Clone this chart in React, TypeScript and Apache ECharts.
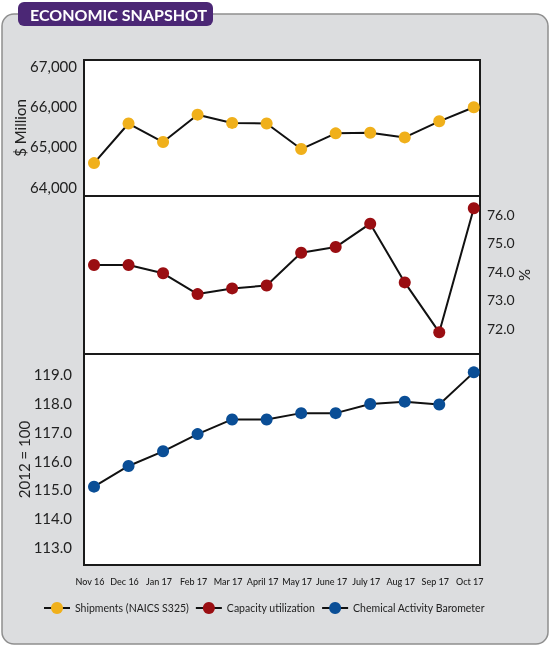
import React, { useEffect, useRef } from "react";
import * as echarts from "echarts";

const months = ["Nov 16", "Dec 16", "Jan 17", "Feb 17", "Mar 17", "April 17", "May 17", "June 17", "July 17", "Aug 17", "Sep 17", "Oct 17"];
const shipments = [64585, 65570, 65110, 65790, 65585, 65570, 64935, 65325, 65340, 65225, 65625, 65975];
const capacity = [74.22, 74.22, 73.93, 73.2, 73.4, 73.5, 74.65, 74.85, 75.67, 73.61, 71.86, 76.21];
const cab = [115.09, 115.81, 116.32, 116.92, 117.43, 117.43, 117.65, 117.65, 117.97, 118.05, 117.95, 119.07];
const shipTicks = [64000, 65000, 66000, 67000];
const capTicks = [72, 73, 74, 75, 76];
const cabTicks = [113, 114, 115, 116, 117, 118, 119];

const FONT = "Lato";

export default function App() {
  const ref = useRef<HTMLDivElement>(null);
  useEffect(() => {
    if (!ref.current) return;
    const chart = echarts.init(ref.current, undefined, { renderer: "svg" });
    const idx = months.map((_, i) => i);
    const gridBase = {
      left: 84,
      right: 70,
      show: true,
      backgroundColor: "#ffffff",
      borderColor: "#1a1a1a",
      borderWidth: 2,
      containLabel: false,
      outerBoundsMode: "none",
    };
    const xBase = (gi: number, showLabels: boolean) => ({
      type: "value",
      gridIndex: gi,
      min: -0.29,
      max: 11.18,
      axisLine: { show: false },
      axisTick: { show: false },
      splitLine: { show: false },
      axisLabel: {
        show: showLabels,
        customValues: idx,
        formatter: (v: number) => months[Math.round(v)] ?? "",
        fontFamily: FONT,
        fontSize: 9,
        fontWeight: 500,
        color: "#222",
        margin: 12,
        padding: [0, 8, 0, 0],
      },
    });
    const yBase = {
      type: "value",
      axisLine: { show: false },
      axisTick: { show: false },
      splitLine: { show: false },
      nameLocation: "middle",
      nameMoveOverlap: false,
      nameTextStyle: { fontFamily: FONT, fontSize: 15, color: "#222" },
    };
    const lineSeries = (name: string, data: number[], color: string, gi: number) => ({
      name,
      type: "line",
      xAxisIndex: gi,
      yAxisIndex: gi,
      data: data.map((v, i) => [i, v]),
      symbol: "circle",
      symbolSize: 12,
      itemStyle: { color },
      lineStyle: { color: "#111", width: 2 },
      z: 3,
    });
    chart.setOption({
      animation: false,
      textStyle: { fontFamily: FONT },
      graphic: [
        {
          type: "rect",
          z: -10,
          shape: { x: 2, y: 14, width: 546, height: 630, r: 12 },
          style: { fill: "#dcdddf", stroke: "#8f8f8f", lineWidth: 1.5 },
        },
        {
          type: "rect",
          z: 10,
          shape: { x: 18, y: 2, width: 195, height: 24, r: 6 },
          style: { fill: "#4b2775" },
        },
        {
          type: "text",
          z: 11,
          x: 30,
          y: 14,
          style: { text: "ECONOMIC SNAPSHOT", fill: "#ffffff", font: `bold 16px ${FONT}`, verticalAlign: "middle", textAlign: "left" },
        },
      ],
      grid: [
        { ...gridBase, top: 60, height: 136 },
        { ...gridBase, top: 196, height: 158 },
        { ...gridBase, top: 354, height: 211 },
      ],
      xAxis: [xBase(0, false), xBase(1, false), xBase(2, true)],
      yAxis: [
        {
          ...yBase,
          gridIndex: 0,
          position: "left",
          min: 63767,
          max: 67150,
          name: "$ Million",
          nameRotate: 90,
          nameGap: 57,
          axisLabel: {
            customValues: shipTicks,
            formatter: (v: number) => v.toLocaleString("en-US"),
            fontFamily: FONT,
            fontSize: 15,
            color: "#222",
            margin: 7,
          },
        },
        {
          ...yBase,
          gridIndex: 1,
          position: "right",
          min: 71.1,
          max: 76.64,
          name: "%",
          nameRotate: -90,
          nameGap: 37,
          axisLabel: {
            customValues: capTicks,
            formatter: (v: number) => v.toFixed(1),
            fontFamily: FONT,
            fontSize: 14,
            color: "#222",
            margin: 7,
          },
        },
        {
          ...yBase,
          gridIndex: 2,
          position: "left",
          min: 112.36,
          max: 119.71,
          name: "2012 = 100",
          nameRotate: 90,
          nameGap: 53,
          axisLabel: {
            customValues: cabTicks,
            formatter: (v: number) => v.toFixed(1),
            fontFamily: FONT,
            fontSize: 15,
            color: "#222",
            margin: 12,
          },
        },
      ],
      legend: {
        left: 38,
        top: 597,
        itemWidth: 26,
        itemHeight: 15,
        itemGap: 6,
        textStyle: { fontFamily: FONT, fontSize: 10.5, color: "#222" },
        data: ["Shipments (NAICS S325)", "Capacity utilization", "Chemical Activity Barometer"],
      },
      series: [
        lineSeries("Shipments (NAICS S325)", shipments, "#f0b01b", 0),
        lineSeries("Capacity utilization", capacity, "#9a0e12", 1),
        lineSeries("Chemical Activity Barometer", cab, "#0a4e96", 2),
      ],
    });
    return () => chart.dispose();
  }, []);
  return <div ref={ref} style={{ position: "fixed", left: 0, top: 0, width: 550, height: 648 }} />;
}
